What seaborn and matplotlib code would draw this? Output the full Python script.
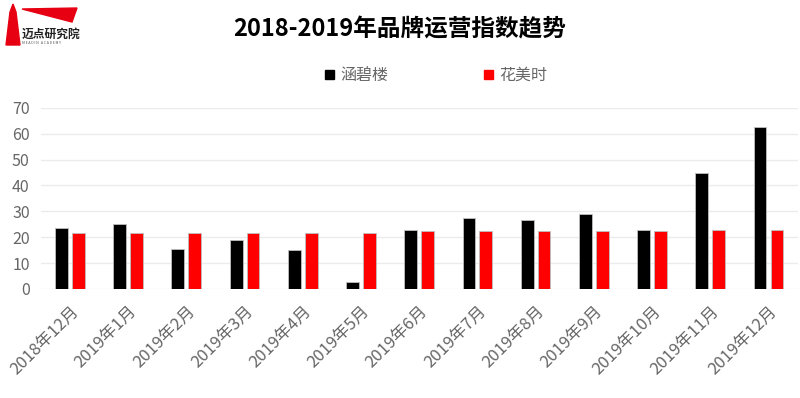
import pandas as pd
import matplotlib
matplotlib.use("Agg")
import matplotlib.pyplot as plt
from matplotlib.patches import Polygon, Rectangle
import seaborn as sns

# Data
months = ["2018年12月", "2019年1月", "2019年2月", "2019年3月", "2019年4月", "2019年5月",
          "2019年6月", "2019年7月", "2019年8月", "2019年9月", "2019年10月", "2019年11月",
          "2019年12月"]
hanbilou = [23.7, 25.1, 15.5, 18.9, 15.1, 2.6, 22.8, 27.6, 26.7, 29.0, 22.8, 44.9, 62.5]
huameishi = [21.6, 21.6, 21.6, 21.6, 21.6, 21.6, 22.3, 22.3, 22.3, 22.3, 22.3, 22.8, 22.8]
series_names = ["涵碧楼", "花美时"]
colors = ["#000000", "#FF0000"]

df = pd.DataFrame({
    "month": months * 2,
    "value": hanbilou + huameishi,
    "brand": [series_names[0]] * len(months) + [series_names[1]] * len(months),
})

sns.set_theme(style="white")
plt.rcParams["font.family"] = ["Noto Sans CJK SC", "DejaVu Sans"]

fig = plt.figure(figsize=(8, 3.98), dpi=100)
ax = fig.add_axes([0.051, 0.274, 0.946, 0.455])

sns.barplot(data=df, x="month", y="value", hue="brand", palette=colors,
            saturation=1, width=0.58, gap=0.24, edgecolor="#BFBFBF", linewidth=0.6,
            legend=False, ax=ax)

ax.set_ylim(0, 70)
ax.set_xlim(-0.5, len(months) - 0.5)
ax.set_yticks(range(0, 71, 10))
ax.yaxis.grid(True, color="#EBEBEB", linewidth=1)
ax.set_axisbelow(True)
for s in ax.spines.values():
    s.set_visible(False)
ax.set_xlabel("")
ax.set_ylabel("")
ax.tick_params(axis="y", labelsize=11.5, labelcolor="#666666", length=0, pad=8)
ax.tick_params(axis="x", labelsize=12, labelcolor="#666666", length=0, pad=10)
ax.set_xticks(range(len(months)))
ax.set_xticklabels(months, rotation=45, ha="right", rotation_mode="anchor")

# Title
fig.text(0.5, 0.925, "2018-2019年品牌运营指数趋势", ha="center", va="center",
         fontsize=17, fontweight="bold", color="#000000")

# Legend
handles = [Rectangle((0, 0), 1, 1, color=c) for c in colors]
fig.legend(handles, series_names, loc="center", bbox_to_anchor=(0.545, 0.81),
           ncol=2, frameon=False, fontsize=11.5, handlelength=0.55, handleheight=0.55,
           handletextpad=0.4, columnspacing=6.0, labelcolor="#666666")

# Logo
W, H = 800, 398
def fp(x, y):
    return (x / W, 1 - y / H)
fig.patches.append(Polygon([fp(6, 45), fp(10, 12), fp(13, 4), fp(16, 12), fp(20, 45)],
                           closed=True, color="#E60012", transform=fig.transFigure))
fig.patches.append(Polygon([fp(22, 9), fp(77, 8), fp(72, 22)],
                           closed=True, color="#E60012", transform=fig.transFigure))
fig.text(22 / W, 1 - 34 / H, "迈点研究院", fontsize=8.5, fontweight="bold",
         color="#222222", va="center", ha="left")
fig.text(22 / W, 1 - 43 / H, "M E A D I N   A C A D E M Y", fontsize=2.5,
         color="#555555", va="center", ha="left")

fig.savefig("out.png", dpi=100)
